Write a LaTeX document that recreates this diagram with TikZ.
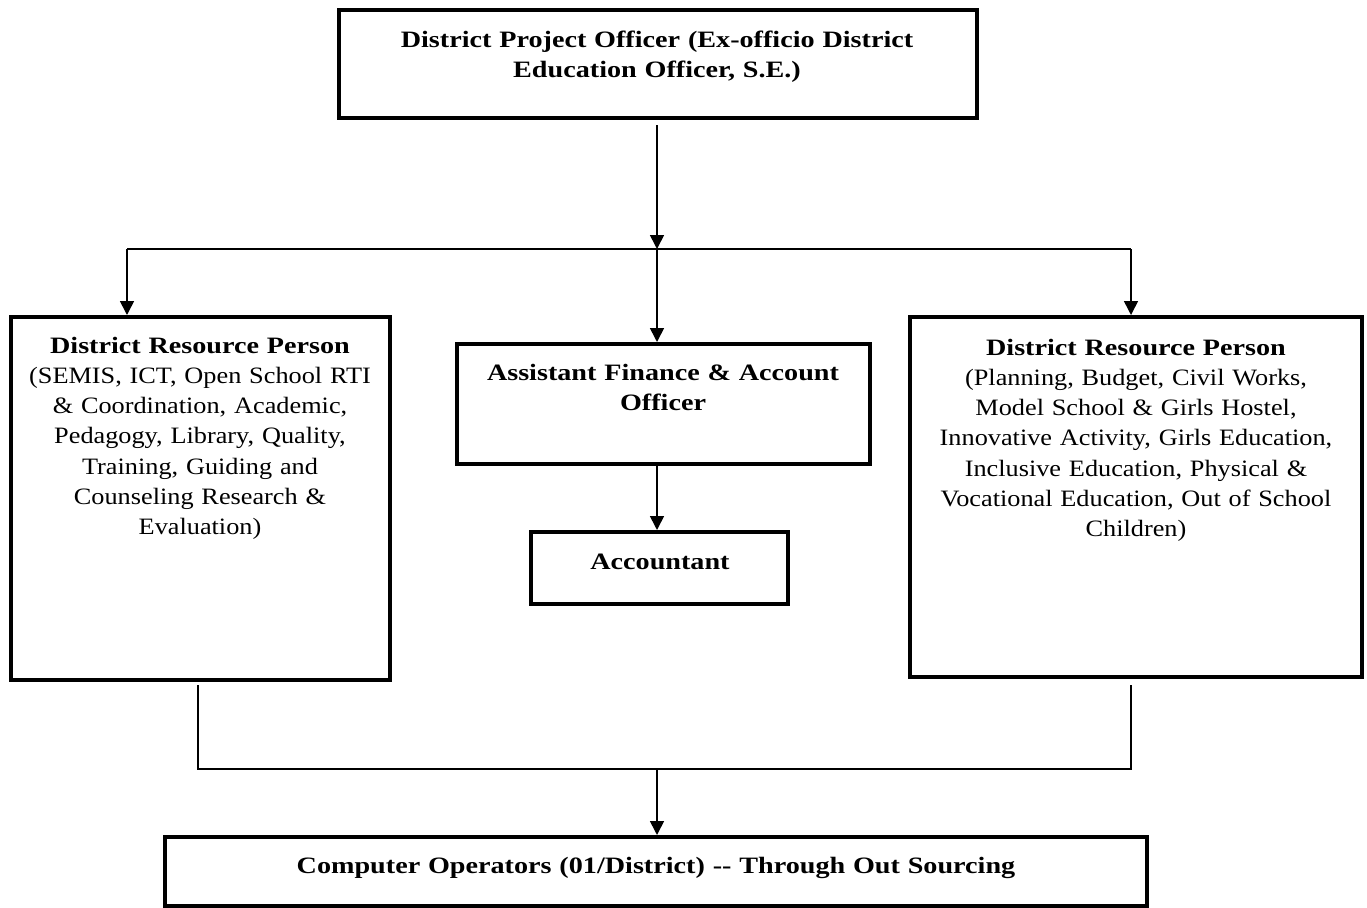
\documentclass[tikz,border=0pt]{standalone}
\usepackage{fontspec}
\setmainfont{Liberation Serif}[FakeStretch=1.12,BoldFeatures={FakeStretch=1.2}]
\usetikzlibrary{arrows.meta,fit}
\begin{document}
\begin{tikzpicture}[x=0.75pt,y=-0.75pt,
  box/.style={draw,line width=3pt,inner sep=0pt},
  txt/.style={inner sep=0pt,align=center,anchor=base,text width=600*0.75pt,font=\fontsize{17.6pt}{22.7pt}\selectfont},
  conn/.style={line width=1.2pt},
  arr/.style={line width=1.2pt,-{Triangle[length=10.5pt,width=10.5pt]}}]
\useasboundingbox (0,0) rectangle (1367,907);
% boxes
\node[box,fit={(339,10) (977,118)}] (top) {};
\node[box,fit={(11,317) (390,680)}] (left) {};
\node[box,fit={(910,317) (1362,677)}] (right) {};
\node[box,fit={(457,344) (870,464)}] (mid) {};
\node[box,fit={(531,532) (788,604)}] (acc) {};
\node[box,fit={(165,837) (1147,906)}] (bot) {};
% texts
\node[txt] (ttop) at (657,47) {\textbf{District Project Officer (Ex-officio District}\\ \textbf{Education Officer, S.E.)}};
\node[txt] (tleft) at (200,353) {\textbf{District Resource Person}\\ (SEMIS, ICT, Open School RTI\\ \& Coordination, Academic,\\ Pedagogy, Library, Quality,\\ Training, Guiding and\\ Counseling Research \&\\ Evaluation)};
\node[txt] (tright) at (1136,355) {\textbf{District Resource Person}\\ (Planning, Budget, Civil Works,\\ Model School \& Girls Hostel,\\ Innovative Activity, Girls Education,\\ Inclusive Education, Physical \&\\ Vocational Education, Out of School\\ Children)};
\node[txt] (tmid) at (663,380) {\textbf{Assistant Finance \& Account}\\ \textbf{Officer}};
\node[txt] (tacc) at (660,569) {\textbf{Accountant}};
\node[txt,text width=982*0.75pt] (tbot) at (656,873) {\textbf{Computer Operators (01/District) -\kern0pt- Through Out Sourcing}};
% connectors
\coordinate (j1) at (657,249);
\coordinate (jl) at (127,249);
\coordinate (jr) at (1131,249);
\coordinate (ls) at (198,685);
\coordinate (rs) at (1131,685);
\coordinate (lb) at (198,769);
\coordinate (rb) at (1131,769);
\coordinate (j2) at (657,769);
\draw[arr] (657,125) -- (j1);
\draw[conn] (jl) -- (jr);
\draw[arr] (jl) -- (jl |- left.north);
\draw[arr] (jr) -- (jr |- right.north);
\draw[arr] (j1) -- (j1 |- mid.north);
\draw[arr] (j1 |- mid.south) -- (j1 |- acc.north);
\draw[conn] (ls) -- (lb) -- (rb) -- (rs);
\draw[arr] (j2) -- (j2 |- bot.north);
\end{tikzpicture}
\end{document}
